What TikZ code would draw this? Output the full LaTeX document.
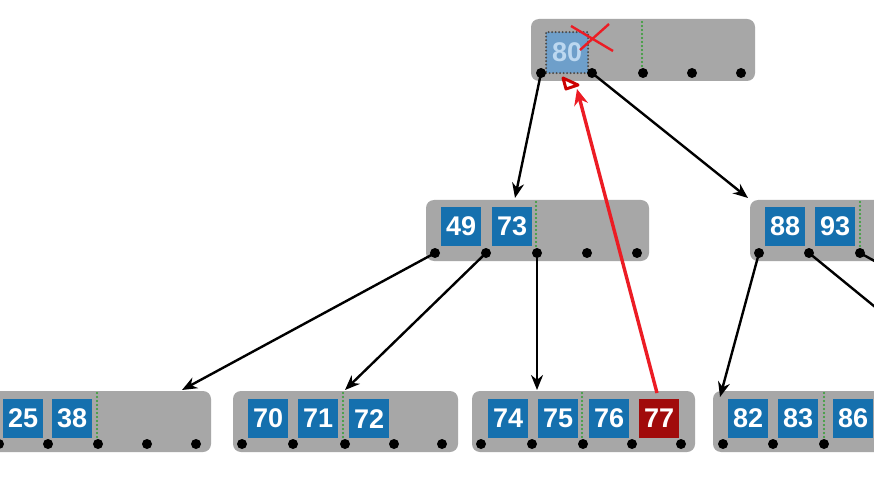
\documentclass[tikz,border=0pt]{standalone}
\usepackage{fontspec}
\newfontfamily\keyfont{Liberation Sans}
\usetikzlibrary{arrows.meta}
\definecolor{boxgray}{HTML}{A7A7A7}
\definecolor{keyblue}{HTML}{1570AE}
\definecolor{keyred}{HTML}{A10B0B}
\definecolor{fadeblue}{HTML}{6E9FCA}
\definecolor{fadetext}{HTML}{BCD8F0}
\definecolor{dotgreen}{HTML}{2E9E2E}
\definecolor{arrred}{HTML}{EC1C24}
\tikzset{
  graybox/.style={fill=boxgray, rounded corners=8pt, minimum height=61pt, inner sep=0pt, draw=none},
  keybox/.style={fill=keyblue, text=white, font=\keyfont\bfseries\fontsize{27}{27}\selectfont,
     minimum width=40pt, minimum height=39pt, inner sep=0pt, anchor=north west},
  dotnode/.style={circle, fill=black, minimum size=10pt, inner sep=0pt},
  ptr/.style={draw, line width=2.4pt, -{Stealth[length=15pt,width=12pt]}},
  sep/.style={dotgreen, line width=2.4pt, line cap=round, dash pattern=on 0pt off 4pt},
}
\begin{document}
\begin{tikzpicture}[x=1pt,y=-1pt]
\clip (0,0) rectangle (874,478);
\fill[white] (0,0) rectangle (874,478);
% ---------- root ----------
\node[graybox, minimum width=224pt, minimum height=62pt] (root) at (643,50) {};
\node[keybox, fill=fadeblue, text=fadetext, draw=black!70, line cap=round, dash pattern=on 0pt off 3.5pt, line width=2.2pt, minimum width=42pt, minimum height=41pt] (k80) at (545,31) {80};
\draw[sep] (642,22) -- (642,66);
\foreach \i/\x in {1/541,2/592,3/643,4/692,5/741}{ \node[dotnode] (rd\i) at (\x,73) {}; }
\draw[arrred, line width=2.4pt] (571,26) -- (613,51);
\draw[arrred, line width=2.4pt] (609,24) -- (580,50);
% ---------- level 2 left ----------
\node[graybox, minimum width=223pt] (ml) at (537.5,230.5) {};
\node[keybox] (k49) at (441,207) {49};
\node[keybox] (k73) at (492,207) {73};
\draw[sep] (536,202) -- (536,250);
\foreach \i/\x in {1/435,2/486,3/537,4/587,5/637}{ \node[dotnode] (ld\i) at (\x,253) {}; }
% ---------- level 2 right ----------
\node[graybox, minimum width=223pt] (mr) at (861.5,230.5) {};
\node[keybox] (k88) at (765,207) {88};
\node[keybox] (k93) at (815,207) {93};
\draw[sep] (860,202) -- (860,250);
\foreach \i/\x in {1/759,2/809,3/860}{ \node[dotnode] (md\i) at (\x,253) {}; }
% ---------- leaves ----------
\node[graybox, minimum width=223pt] (la) at (99.5,421.5) {};
\node[keybox] (k25) at (3,399) {25};
\node[keybox] (k38) at (52,399) {38};
\draw[sep] (97,393) -- (97,441);
\foreach \i/\x in {0/-1,1/48,2/98,3/147,4/196}{ \node[dotnode] (ad\i) at (\x,444) {}; }

\node[graybox, minimum width=225pt] (lb) at (345.5,421.5) {};
\node[keybox] (k70) at (248,399) {70};
\node[keybox] (k71) at (298,399) {71};
\node[keybox] (k72) at (349,399) {72};
\draw[sep] (343,393) -- (343,441);
\foreach \i/\x in {1/242,2/293,3/345,4/394,5/442}{ \node[dotnode] (bd\i) at (\x,444) {}; }

\node[graybox, minimum width=223pt] (lc) at (583.5,421.5) {};
\node[keybox] (k74) at (488,399) {74};
\node[keybox] (k75) at (538,399) {75};
\node[keybox] (k76) at (589,399) {76};
\node[keybox, fill=keyred] (k77) at (639,399) {77};
\draw[sep] (582,393) -- (582,441);
\foreach \i/\x in {1/481,2/532,3/583,4/632,5/681}{ \node[dotnode] (cd\i) at (\x,444) {}; }

\node[graybox, minimum width=223pt] (ld) at (824.5,421.5) {};
\node[keybox] (k82) at (728,399) {82};
\node[keybox] (k83) at (778,399) {83};
\node[keybox] (k86) at (833,399) {86};
\draw[sep] (824,393) -- (824,441);
\foreach \i/\x in {1/723,2/773,3/824}{ \node[dotnode] (dd\i) at (\x,444) {}; }
% ---------- pointers ----------
\coordinate (t1) at (515,198);
\coordinate (t2) at (748,198);
\coordinate (t3) at (182,390);
\coordinate (t4) at (345,390);
\coordinate (t5) at (537,390);
\coordinate (t6) at (720,397);
\coordinate (t7) at (940,360);
\coordinate (t8) at (1000,330);
\draw[ptr] (rd1.center) -- (t1);
\draw[ptr] (rd2.center) -- (t2);
\draw[ptr] (ld1.center) -- (t3);
\draw[ptr] (ld2.center) -- (t4);
\draw[ptr] (ld3.center) -- (t5);
\draw[ptr] (md1.center) -- (t6);
\draw[line width=2.4pt] (md2.center) -- (t7);
\draw[line width=2.4pt] (md3.center) -- (t8);
% ---------- red move arrow ----------
\coordinate (rs) at (657,393);
\coordinate (rt) at (577,89);
\draw[arrred, line width=3.4pt, -{Stealth[length=16pt,width=14pt]}] (rs) -- (rt);
\coordinate (tri1) at (563,78);
\coordinate (tri2) at (578,85);
\coordinate (tri3) at (566,89);
\draw[red!80!black, line width=3pt, line join=round] (tri1) -- (tri2) -- (tri3) -- cycle;
\end{tikzpicture}
\end{document}
